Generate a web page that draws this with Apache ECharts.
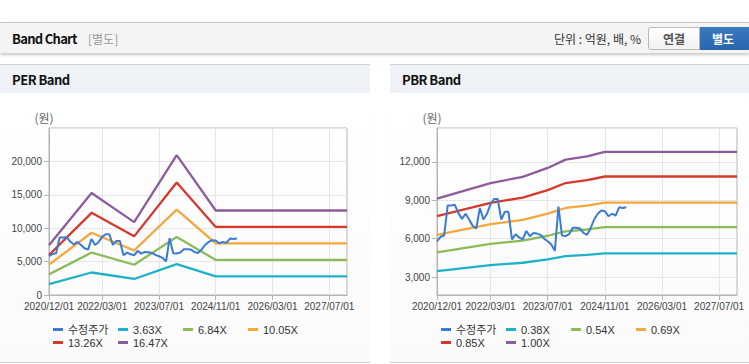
<!DOCTYPE html>
<html><head><meta charset="utf-8">
<script src="https://cdn.jsdelivr.net/npm/echarts@6/dist/echarts.min.js"></script>
<style>
html,body{margin:0;padding:0;background:#fff;width:749px;height:364px;overflow:hidden;font-family:"Liberation Sans","Noto Sans CJK KR",sans-serif;}
.bar{position:absolute;left:0;top:22px;width:749px;height:30px;border-top:1px solid #c4c4c4;background:#f4f4f4;box-shadow:0 2px 3px rgba(0,0,0,0.22);}
.title{position:absolute;left:12px;top:7px;font:bold 13px "Noto Sans CJK KR",sans-serif;color:#111;line-height:17px;letter-spacing:-0.7px}
.sub{position:absolute;left:88px;top:7px;font:12px "Noto Sans CJK KR",sans-serif;color:#999;line-height:17px}
.unit{position:absolute;right:108px;top:8px;font:12px "Noto Sans CJK KR",sans-serif;color:#333;line-height:16px}
.btn1{position:absolute;left:648px;top:4px;width:50px;height:21px;border:1px solid #b8b8b8;border-radius:3px 0 0 3px;background:linear-gradient(#fff,#f1f1f1);font:bold 12px "Noto Sans CJK KR",sans-serif;color:#555;text-align:center;line-height:21px}
.btn2{position:absolute;left:700px;top:4px;width:60px;height:23px;background:linear-gradient(#3a78c0,#2a66ad);font:bold 12px "Noto Sans CJK KR",sans-serif;color:#fff;line-height:23px;padding-left:12px;box-sizing:border-box}
.ph{position:absolute;top:64px;height:28px;border-top:1px solid #d2d2d2;background:#eef1f6;}
.ph span{position:absolute;left:12px;top:6px;font:bold 13px "Noto Sans CJK KR",sans-serif;color:#111;line-height:17px;letter-spacing:-0.5px}
.pb{position:absolute;top:93px;height:269px;border-bottom:1px solid #d2d2d2;background:linear-gradient(#fff,#fafafa);}
</style></head>
<body>
<div class="bar">
  <div class="title">Band Chart</div>
  <div class="sub">[별도]</div>
  <div class="unit">단위 : 억원, 배, %</div>
  <div class="btn1">연결</div>
  <div class="btn2">별도</div>
</div>
<div class="ph" style="left:0;width:370px"><span>PER Band</span></div>
<div class="ph" style="left:390px;width:359px"><span>PBR Band</span></div>
<div class="pb" id="per" style="left:0;width:370px"></div>
<div class="pb" id="pbr" style="left:390px;width:359px"></div>
<script>
// ---- data ----
const categories = [];
for (let y = 2020, m = 12; y < 2027 || (y === 2027 && m <= 12); ) {
  categories.push(y + '/' + String(m).padStart(2, '0') + '/01');
  m++; if (m > 12) { m = 1; y++; }
}
const xTickLabels = ['2020/12/01','2022/03/01','2023/07/01','2024/11/01','2026/03/01','2027/07/01'];

// 수정주가, monthly from 2020/12/01
const priceValues = [5800,6150,6250,8600,8600,8650,8000,7550,7950,7500,7000,6800,
  8400,7500,7950,8700,9100,9100,7500,8100,8100,5950,6350,6100,5950,6600,6200,6450,
  6400,6300,6000,5800,5550,5050,8500,6250,6200,6350,6850,6850,6800,6450,6300,6800,
  7500,7950,8200,8150,7750,7950,7800,8450,8400,8450];

// PER band values at turning dates
const perBandDates = ['2020/12/01','2021/12/01','2022/12/01','2023/12/01','2024/11/01','2027/12/01'];
const perNames = ['3.63X','6.84X','10.05X','13.26X','16.47X'];
const per363  = [1640, 3370, 2400, 4610, 2790, 2790];
const per684  = [3090, 6350, 4530, 8690, 5250, 5250];
const per1005 = [4540, 9320, 6660, 12770, 7720, 7720];
const per1326 = [5990, 12300, 8780, 16850, 10190, 10190];
const per1647 = [7440, 15280, 10910, 20930, 12650, 12650];

// PBR band values at turning dates
const pbrBandDates = ['2020/12/01','2022/03/01','2022/12/01','2023/07/01','2023/12/01','2024/06/01','2024/11/01','2027/12/01'];
const pbrNames = ['0.38X','0.54X','0.69X','0.85X','1.00X'];
const pbr038 = [3470, 3930, 4120, 4380, 4630, 4730, 4860, 4860];
const pbr054 = [4930, 5590, 5850, 6230, 6580, 6720, 6900, 6900];
const pbr069 = [6300, 7140, 7470, 7960, 8400, 8580, 8820, 8820];
const pbr085 = [7760, 8800, 9210, 9800, 10350, 10570, 10860, 10860];
const pbr100 = [9130, 10350, 10830, 11530, 12180, 12440, 12780, 12780];

const colors = ['#3a7bd5','#1fb2c6','#8cbb5a','#f4a73c','#d4392b','#8e5b9b'];
const priceName = '수정주가';

function bandData(dates, vals) {
  return categories.map(c => { const k = dates.indexOf(c); return k >= 0 ? vals[k] : null; });
}
const tickFn = (idx, val) => xTickLabels.indexOf(val) >= 0;
const numFont = '"Liberation Sans",Arial,sans-serif';

function makeOption(gridLeft, gridWidth, yAxisCfg, bandNames, bandDates, bandVals) {
  const series = [{
    name: priceName, type: 'line', data: priceValues.concat(new Array(categories.length - priceValues.length).fill(null)),
    showSymbol: false, lineStyle: { width: 2, color: colors[0] }, itemStyle: { color: colors[0] }, z: 5
  }];
  bandNames.forEach((n, i) => {
    series.push({
      name: n, type: 'line', data: bandData(bandDates, bandVals[i]), connectNulls: true,
      showSymbol: false, lineStyle: { width: 2.3, color: colors[i + 1] }, itemStyle: { color: colors[i + 1] }, z: 2
    });
  });
  return {
    animation: false,
    color: colors,
    grid: { left: gridLeft, top: 35, width: gridWidth, height: 167, show: true, borderColor: '#b4b4b4', borderWidth: 1, backgroundColor: 'transparent' },
    legend: {
      left: gridLeft + 4, top: 230, width: 262, itemGap: 0, itemWidth: 10, itemHeight: 3, icon: 'rect',
      padding: 0,
      textStyle: { fontSize: 11, color: '#333', width: 50, lineHeight: 13, fontFamily: '"Liberation Sans","Noto Sans CJK KR",sans-serif' },
      data: [priceName].concat(bandNames)
    },
    xAxis: {
      type: 'category', data: categories, boundaryGap: false,
      axisLine: { lineStyle: { color: '#b4b4b4' } },
      axisTick: { show: true, interval: tickFn, length: 5, lineStyle: { color: '#b4b4b4' } },
      axisLabel: { interval: 0, color: '#444', fontSize: 10, margin: 6, fontFamily: numFont,
        hideOverlap: false, formatter: v => (xTickLabels.indexOf(v) >= 0 ? v : '') },
      splitLine: { show: true, interval: tickFn, lineStyle: { color: '#e6e6e6' } }
    },
    yAxis: Object.assign({
      type: 'value', name: '(원)', nameLocation: 'end', nameGap: 5,
      nameTextStyle: { color: '#666', fontSize: 12, align: 'center', padding: [0, 10, 0, 0], fontFamily: '"Noto Sans CJK KR",sans-serif' },
      axisLine: { show: true, lineStyle: { color: '#b4b4b4' } },
      axisTick: { show: true, length: 5, lineStyle: { color: '#b4b4b4' } },
      axisLabel: { color: '#444', fontSize: 10, margin: 7, fontFamily: numFont, showMaxLabel: false,
        formatter: v => v.toLocaleString('en-US') },
      splitLine: { show: true, lineStyle: { color: '#e6e6e6' } }
    }, yAxisCfg),
    series: series
  };
}

const perChart = echarts.init(document.getElementById('per'), null, { renderer: 'svg' });
perChart.setOption(makeOption(49, 298, { min: 0, max: 25000, interval: 5000 }, perNames, perBandDates,
  [per363, per684, per1005, per1326, per1647]));

const pbrChart = echarts.init(document.getElementById('pbr'), null, { renderer: 'svg' });
const pbrOpt = makeOption(47, 300, { min: 1600, max: 14650, splitNumber: 5 }, pbrNames, pbrBandDates,
  [pbr038, pbr054, pbr069, pbr085, pbr100]);
pbrOpt.yAxis.axisLabel.showMinLabel = false;
pbrChart.setOption(pbrOpt);
</script>
</body></html>
